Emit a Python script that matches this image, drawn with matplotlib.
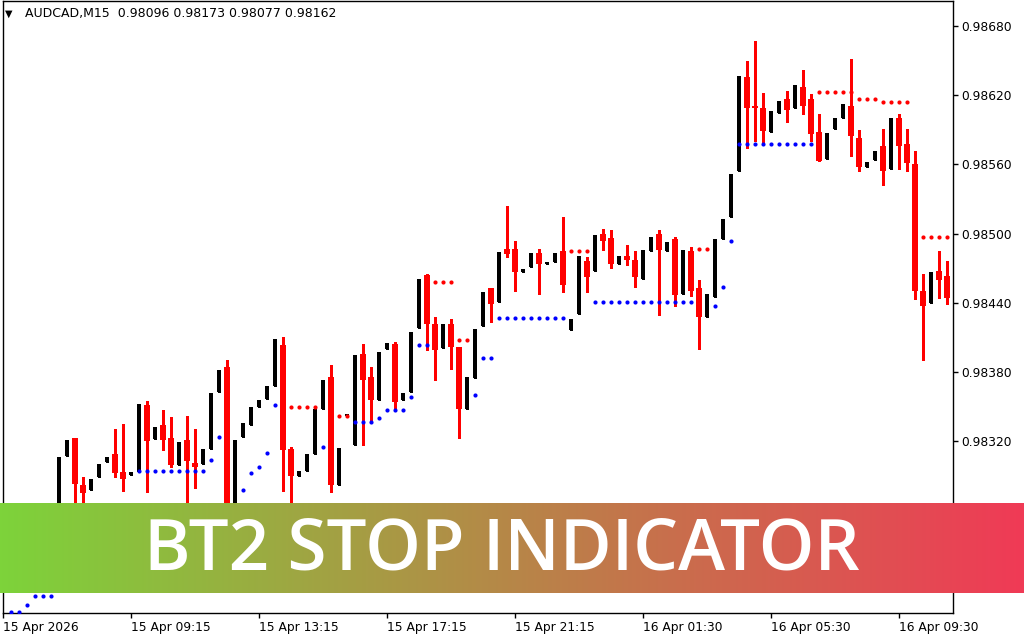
import numpy as np
import matplotlib
matplotlib.use('Agg')
import matplotlib.pyplot as plt

# AUDCAD M15 candles (prices)
opens = [0.98200, 0.98208, 0.98218, 0.98214, 0.98232, 0.98240, 0.98236, 0.98251, 0.98307, 0.98323,
         0.98282, 0.98278, 0.98289, 0.98302, 0.98309, 0.98293, 0.98291, 0.98293, 0.98351, 0.98322,
         0.98334, 0.98323, 0.98299, 0.98321, 0.98301, 0.98300, 0.98313, 0.98363, 0.98384, 0.98243,
         0.98324, 0.98334, 0.98350, 0.98357, 0.98368, 0.98403, 0.98313, 0.98290, 0.98294, 0.98309,
         0.98348, 0.98376, 0.98282, 0.98342, 0.98317, 0.98396, 0.98376, 0.98356, 0.98400, 0.98404,
         0.98356, 0.98363, 0.98418, 0.98464, 0.98422, 0.98401, 0.98422, 0.98402, 0.98348, 0.98375,
         0.98420, 0.98453, 0.98441, 0.98487, 0.98487, 0.98467, 0.98471, 0.98483, 0.98474, 0.98475,
         0.98485, 0.98416, 0.98430, 0.98476, 0.98468, 0.98500, 0.98496, 0.98474, 0.98481, 0.98477,
         0.98461, 0.98485, 0.98500, 0.98485, 0.98495, 0.98448, 0.98485, 0.98453, 0.98428, 0.98445,
         0.98495, 0.98514, 0.98554, 0.98636, 0.98611, 0.98609, 0.98588, 0.98605, 0.98617, 0.98609,
         0.98627, 0.98617, 0.98588, 0.98565, 0.98591, 0.98600, 0.98611, 0.98583, 0.98558, 0.98564,
         0.98576, 0.98556, 0.98600, 0.98578, 0.98560, 0.98450, 0.98440, 0.98468, 0.98463]
highs = [0.98212, 0.98222, 0.98226, 0.98236, 0.98244, 0.98248, 0.98252, 0.98306, 0.98321, 0.98323,
         0.98289, 0.98287, 0.98300, 0.98306, 0.98331, 0.98335, 0.98293, 0.98352, 0.98355, 0.98332,
         0.98347, 0.98341, 0.98319, 0.98342, 0.98331, 0.98313, 0.98362, 0.98382, 0.98390, 0.98321,
         0.98336, 0.98350, 0.98356, 0.98368, 0.98409, 0.98410, 0.98315, 0.98294, 0.98309, 0.98348,
         0.98373, 0.98386, 0.98314, 0.98342, 0.98395, 0.98404, 0.98384, 0.98397, 0.98405, 0.98406,
         0.98362, 0.98415, 0.98461, 0.98465, 0.98428, 0.98422, 0.98426, 0.98402, 0.98376, 0.98417,
         0.98449, 0.98453, 0.98484, 0.98524, 0.98494, 0.98469, 0.98483, 0.98487, 0.98475, 0.98483,
         0.98514, 0.98426, 0.98481, 0.98480, 0.98499, 0.98504, 0.98503, 0.98481, 0.98490, 0.98485,
         0.98486, 0.98497, 0.98503, 0.98493, 0.98497, 0.98486, 0.98488, 0.98460, 0.98448, 0.98495,
         0.98513, 0.98552, 0.98637, 0.98650, 0.98667, 0.98622, 0.98606, 0.98615, 0.98624, 0.98629,
         0.98642, 0.98621, 0.98604, 0.98587, 0.98600, 0.98612, 0.98651, 0.98590, 0.98562, 0.98572,
         0.98591, 0.98600, 0.98604, 0.98591, 0.98572, 0.98465, 0.98467, 0.98485, 0.98476]
lows = [0.98195, 0.98204, 0.98210, 0.98212, 0.98226, 0.98232, 0.98234, 0.98249, 0.98307, 0.98265,
        0.98265, 0.98278, 0.98289, 0.98302, 0.98289, 0.98277, 0.98291, 0.98293, 0.98276, 0.98322,
        0.98312, 0.98298, 0.98299, 0.98258, 0.98279, 0.98300, 0.98313, 0.98363, 0.98235, 0.98238,
        0.98324, 0.98334, 0.98350, 0.98357, 0.98368, 0.98277, 0.98265, 0.98290, 0.98294, 0.98309,
        0.98348, 0.98276, 0.98282, 0.98342, 0.98317, 0.98317, 0.98337, 0.98356, 0.98400, 0.98347,
        0.98356, 0.98363, 0.98418, 0.98399, 0.98373, 0.98401, 0.98383, 0.98323, 0.98348, 0.98375,
        0.98420, 0.98423, 0.98441, 0.98480, 0.98450, 0.98467, 0.98471, 0.98448, 0.98474, 0.98475,
        0.98449, 0.98416, 0.98430, 0.98449, 0.98468, 0.98486, 0.98470, 0.98474, 0.98473, 0.98454,
        0.98461, 0.98485, 0.98429, 0.98485, 0.98437, 0.98448, 0.98446, 0.98400, 0.98428, 0.98445,
        0.98495, 0.98514, 0.98554, 0.98574, 0.98580, 0.98578, 0.98588, 0.98605, 0.98597, 0.98609,
        0.98604, 0.98580, 0.98563, 0.98565, 0.98591, 0.98600, 0.98567, 0.98554, 0.98558, 0.98564,
        0.98542, 0.98556, 0.98556, 0.98554, 0.98443, 0.98390, 0.98440, 0.98444, 0.98439]
closes = [0.98208, 0.98218, 0.98214, 0.98232, 0.98240, 0.98236, 0.98250, 0.98306, 0.98321, 0.98283,
          0.98275, 0.98287, 0.98300, 0.98306, 0.98292, 0.98287, 0.98293, 0.98352, 0.98320, 0.98332,
          0.98321, 0.98299, 0.98319, 0.98303, 0.98298, 0.98313, 0.98362, 0.98382, 0.98243, 0.98321,
          0.98336, 0.98350, 0.98356, 0.98368, 0.98409, 0.98312, 0.98290, 0.98294, 0.98309, 0.98348,
          0.98373, 0.98282, 0.98314, 0.98342, 0.98395, 0.98373, 0.98356, 0.98397, 0.98405, 0.98354,
          0.98362, 0.98415, 0.98461, 0.98422, 0.98399, 0.98422, 0.98402, 0.98348, 0.98376, 0.98417,
          0.98449, 0.98439, 0.98484, 0.98482, 0.98467, 0.98469, 0.98483, 0.98474, 0.98475, 0.98483,
          0.98455, 0.98426, 0.98481, 0.98462, 0.98499, 0.98494, 0.98474, 0.98481, 0.98477, 0.98462,
          0.98486, 0.98497, 0.98486, 0.98493, 0.98447, 0.98486, 0.98450, 0.98428, 0.98448, 0.98495,
          0.98513, 0.98552, 0.98637, 0.98609, 0.98609, 0.98589, 0.98606, 0.98615, 0.98607, 0.98629,
          0.98611, 0.98586, 0.98563, 0.98587, 0.98600, 0.98612, 0.98585, 0.98558, 0.98562, 0.98572,
          0.98554, 0.98600, 0.98576, 0.98561, 0.98450, 0.98437, 0.98467, 0.98460, 0.98444]

# BT2 stop dots (blue = stop below price, red = stop above price)
nan = np.nan
stop_up = ([nan, 0.98172, 0.98172, 0.98178, 0.98186, 0.98186, 0.98186] + [0.98240] * 10
           + [0.98294] * 9 + [0.98304, 0.98324, nan, nan, 0.98278, 0.98292, 0.98298, 0.98310, 0.98351]
           + [nan] * 5 + [0.98315, nan, nan, nan, 0.98337, 0.98337, 0.98337, 0.98340, 0.98347, 0.98347,
           0.98347, 0.98358, 0.98403, 0.98403, nan, nan, nan, nan, nan, 0.98360, 0.98392, 0.98392]
           + [0.98427] * 9 + [nan] * 3 + [0.98441] * 13 + [nan, nan, 0.98437, 0.98454, 0.98494]
           + [0.98578] * 10 + [nan] * 17)
stop_dn = ([nan] * 36 + [0.98350] * 4 + [nan, nan, 0.98342, 0.98342] + [nan] * 10
           + [0.98458] * 3 + [0.98408] * 2 + [nan] * 12 + [0.98485] * 3 + [nan] * 13
           + [0.98487] * 2 + [nan] * 13 + [0.98623] * 5 + [0.98617] * 3 + [0.98614] * 4
           + [nan] + [0.98497] * 4)

tick_bars = [0, 16, 32, 48, 64, 80, 96, 112]
tick_labels = ['15 Apr 2026', '15 Apr 09:15', '15 Apr 13:15', '15 Apr 17:15',
               '15 Apr 21:15', '16 Apr 01:30', '16 Apr 05:30', '16 Apr 09:30']
price_ticks = [0.98320, 0.98380, 0.98440, 0.98500, 0.98560, 0.98620, 0.98680]
header = 'AUDCAD,M15  0.98096 0.98173 0.98077 0.98162'
banner_title = 'BT2 STOP INDICATOR'

W, H = 1024, 640
fig = plt.figure(figsize=(W / 100, H / 100), dpi=100)
ax = fig.add_axes([2.5 / W, (H - 613) / H, 950 / W, 612 / H])

o = np.array(opens)
c = np.array(closes)
hi = np.array(highs)
lo = np.array(lows)
x = np.arange(len(o))
bull = c >= o
px = 0.0006 / 69.2  # one pixel in price units

# wicks
ax.vlines(x[~bull], lo[~bull], hi[~bull], color='#ff0000', lw=1, antialiased=False, zorder=2)
ax.vlines(x[bull], lo[bull], hi[bull], color='black', lw=1, antialiased=False, zorder=2)
# bodies
body = np.maximum(np.abs(c - o), 1.5 * px)
ax.bar(x[~bull], body[~bull], bottom=np.minimum(o, c)[~bull], width=0.66,
       color='#ff0000', linewidth=0, zorder=3)
ax.bar(x[bull], body[bull], bottom=np.minimum(o, c)[bull], width=0.40,
       color='black', linewidth=0, zorder=3)

ax.scatter(x, stop_up, s=9, color='#0000ff', marker='o', linewidths=0, zorder=4)
ax.scatter(x, stop_dn, s=9, color='#ff0000', marker='o', linewidths=0, zorder=4)

top = 0.98680 + 25 * px
ax.set_ylim(top - 612 * px, top)
ax.set_xlim(-0.06, 118.69)

ax.yaxis.tick_right()
ax.set_yticks(price_ticks)
ax.set_yticklabels(['%.5f' % p for p in price_ticks])
ax.set_xticks(tick_bars)
ax.set_xticklabels(tick_labels, ha='left')
ax.tick_params(axis='both', length=3.5, width=1, color='black', labelsize=8.8,
               labelcolor='black', direction='out')
ax.tick_params(axis='y', pad=3)
ax.tick_params(axis='x', pad=2)
for sp in ax.spines.values():
    sp.set_linewidth(1)
    sp.set_color('black')

fig.text(5 / W, 1 - 14 / H, '\u25bc', fontsize=7, va='center', ha='left', color='black')
fig.text(25 / W, 1 - 14 / H, header, fontsize=9, va='center', ha='left', color='black')

# gradient banner
bax = fig.add_axes([0, (H - 593) / H, 1, 90 / H], zorder=10)
left_col = np.array([125, 211, 58]) / 255
right_col = np.array([240, 58, 86]) / 255
t = np.linspace(0, 1, 512)[None, :, None]
grad = left_col * (1 - t) + right_col * t
bax.imshow(grad, aspect='auto', extent=[0, 1, 0, 1])
bax.set_xlim(0, 1)
bax.set_ylim(0, 1)
bax.axis('off')
bax.text(502 / W, 0.46, banner_title, color='white', fontsize=51, family='Open Sans',
         fontweight='semibold', ha='center', va='center', transform=bax.transAxes)

fig.savefig('out.png', dpi=100)
